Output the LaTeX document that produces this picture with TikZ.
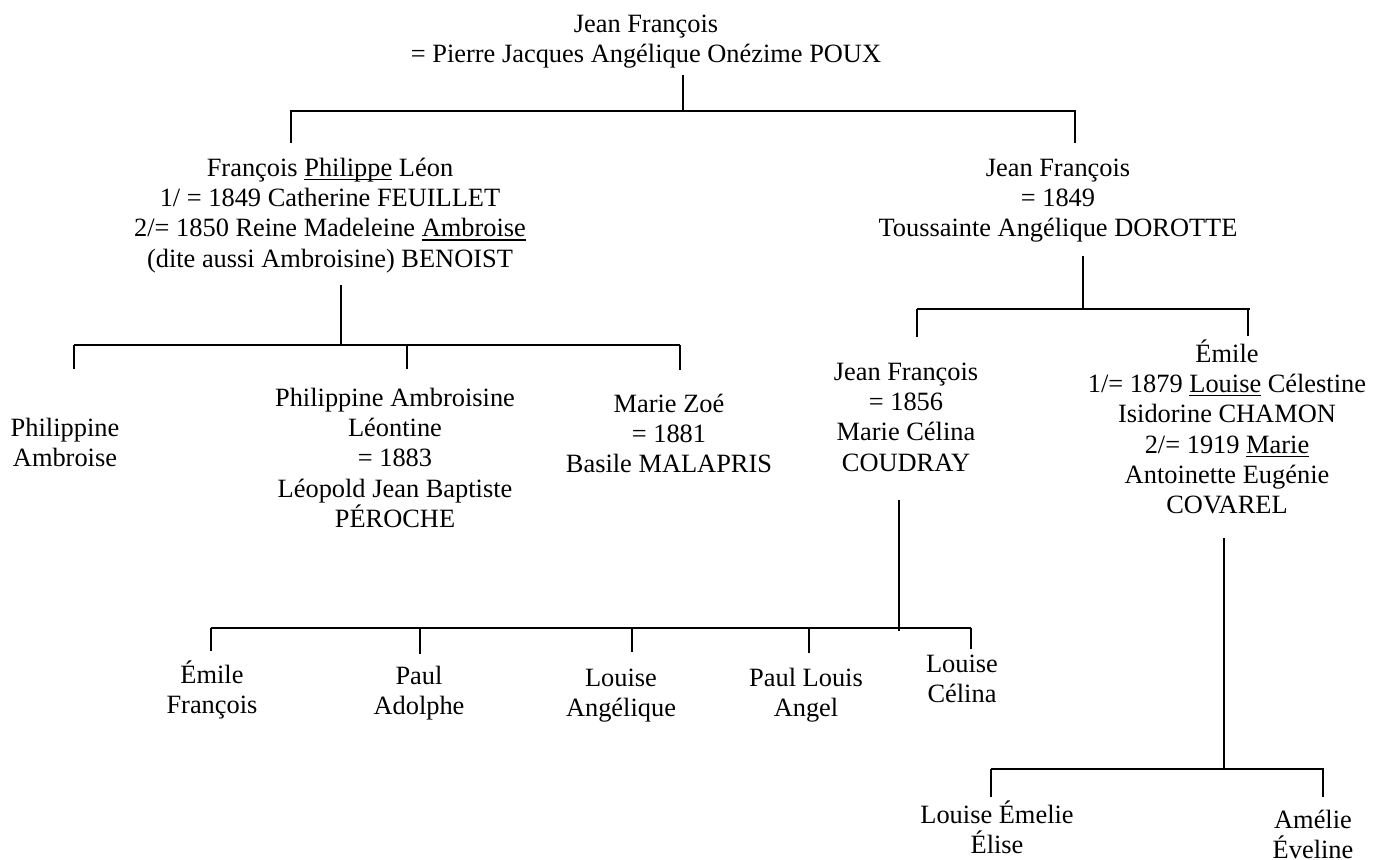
\documentclass[tikz,border=0pt]{standalone}
\usepackage{fontspec}
\setmainfont{Liberation Serif}
\newcommand\mystrut{\rule{0pt}{26pt}}
\newcommand\myul[1]{\setbox0=\hbox{#1}\rlap{\rule[-3.8pt]{\wd0}{1.3pt}}\box0\relax}
\tikzset{
  person/.style={anchor=north, align=center, inner sep=0pt, font=\fontsize{26.4}{30.3}\selectfont},
  link/.style={line width=1.6pt, line cap=butt}
}
\begin{document}
\begin{tikzpicture}[x=1pt,y=-1pt]
\fill[white] (0,0) rectangle (1383,859);
\useasboundingbox (0,0) rectangle (1383,859);

% ---- nodes (anchor north at first baseline - 26) ----
\node[person] (top) at (646,6) {\mystrut Jean François\\= Pierre Jacques Angélique Onézime POUX};
\node[person] (fpl) at (330,150) {\mystrut François \myul{Philippe} Léon\\1/ = 1849 Catherine FEUILLET\\2/= 1850 Reine Madeleine \myul{Ambroise}\\(dite aussi Ambroisine) BENOIST};
\node[person] (jfa) at (1058,150) {\mystrut Jean François\\= 1849\\Toussainte Angélique DOROTTE};
\node[person] (pamb) at (65,410) {\mystrut Philippine\\Ambroise};
\node[person] (pal) at (395,380) {\mystrut Philippine Ambroisine\\Léontine\\= 1883\\Léopold Jean Baptiste\\PÉROCHE};
\node[person] (mz) at (669,386) {\mystrut Marie Zoé\\= 1881\\Basile MALAPRIS};
\node[person] (jfb) at (906,354) {\mystrut Jean François\\= 1856\\Marie Célina\\COUDRAY};
\node[person] (em) at (1227,336) {\mystrut Émile\\1/= 1879 \myul{Louise} Célestine\\Isidorine CHAMON\\2/= 1919 \myul{Marie}\\Antoinette Eugénie\\COVAREL};
\node[person] (ef) at (212,657) {\mystrut Émile\\François};
\node[person] (pad) at (419,658) {\mystrut Paul\\Adolphe};
\node[person] (lang) at (621,660) {\mystrut Louise\\Angélique};
\node[person] (pla) at (806,660) {\mystrut Paul Louis\\Angel};
\node[person] (lcel) at (962,646) {\mystrut Louise\\Célina};
\node[person] (lee) at (997,797) {\mystrut Louise Émelie\\Élise};
\node[person] (aev) at (1313,802) {\mystrut Amélie\\Éveline};

% ---- bracket points ----
\coordinate (t0) at (683,75);   \coordinate (t1) at (683,111);
\coordinate (tl) at (291,111);  \coordinate (tr) at (1075,111);
\coordinate (tld) at (291,143); \coordinate (trd) at (1075,143);

\coordinate (f0) at (341,285);  \coordinate (f1) at (341,345);
\coordinate (fl) at (74,345);   \coordinate (fm) at (407,345); \coordinate (fr) at (680,345);
\coordinate (fld) at (74,369);  \coordinate (fmd) at (407,369); \coordinate (frd) at (680,370);

\coordinate (j0) at (1083,256); \coordinate (j1) at (1083,309);
\coordinate (jl) at (917,309);  \coordinate (jr) at (1250,309);
\coordinate (jld) at (917,337); \coordinate (jrd) at (1248,336);

\coordinate (c0) at (899,500);  \coordinate (c1) at (899,631);
\coordinate (ca) at (211,628);  \coordinate (cb) at (420,628); \coordinate (cc) at (632,628);
\coordinate (cd) at (809,628);  \coordinate (ce) at (971,628);
\coordinate (cad) at (211,651); \coordinate (cbd) at (420,654); \coordinate (ccd) at (632,652);
\coordinate (cdd) at (809,653); \coordinate (ced) at (971,649);

\coordinate (e0) at (1224,538); \coordinate (e1) at (1224,769);
\coordinate (el) at (991,769);  \coordinate (er) at (1324,769);
\coordinate (eld) at (991,797); \coordinate (erd) at (1323,797);

% ---- connectors ----
\draw[link] (t0) -- (t1);
\draw[link] (tld) -- (tl) -- (tr) -- (trd);

\draw[link] (f0) -- (f1);
\draw[link] (fl) -- (fr);
\draw[link] (fl) -- (fld);
\draw[link] (fm) -- (fmd);
\draw[link] (fr) -- (frd);

\draw[link] (j0) -- (j1);
\draw[link] (jl) -- (jr);
\draw[link] (jl) -- (jld);
\draw[link] (jrd) -- (jrd |- jr);

\draw[link] (c0) -- (c1);
\draw[link] (ca) -- (ce);
\draw[link] (ca) -- (cad);
\draw[link] (cb) -- (cbd);
\draw[link] (cc) -- (ccd);
\draw[link] (cd) -- (cdd);
\draw[link] (ce) -- (ced);

\draw[link] (e0) -- (e1);
\draw[link] (el) -- (er);
\draw[link] (el) -- (eld);
\draw[link] (erd) -- (erd |- er);
\end{tikzpicture}
\end{document}
